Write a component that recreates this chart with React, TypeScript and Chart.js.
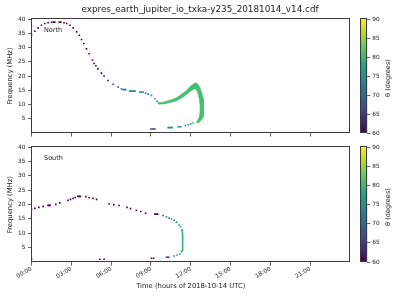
import React, { useEffect, useRef } from "react";
import { Chart, registerables } from "chart.js";

Chart.register(...registerables);

const FONT = "'DejaVu Sans', sans-serif";
const TEXT = "#1a1a1a";
const SPINE = "#3a3a3a";

const FIG_TITLE = "expres_earth_jupiter_io_txka-y235_20181014_v14.cdf";
const X_LABEL = "Time (hours of 2018-10-14 UTC)";
const Y_LABEL = "Frequency (MHz)";
const CB_LABEL = "θ (degrees)";
const PANEL_NAMES = ["North", "South"];

const X_TICKS = [0, 3, 6, 9, 12, 15, 18, 21];
const Y_TICKS = [5, 10, 15, 20, 25, 30, 35, 40];
const CB_TICKS = [60, 65, 70, 75, 80, 85, 90];
const THETA_MIN = 60;
const THETA_MAX = 90;

// ---- North hemisphere: sampled emission points (hour, MHz, theta deg)
const northHours = [
  0.0, 0.25, 0.5, 0.75, 1.0, 1.25, 1.5, 1.65, 1.75, 2.1, 2.2, 2.45, 2.64, 2.9, 3.14, 3.4, 3.6, 3.77, 3.94, 4.14,
  4.34, 4.6, 4.72, 4.85, 5.0, 5.27, 5.47, 5.77, 6.15, 6.53, 6.78, 6.9, 7.0, 7.1, 7.4, 7.5, 7.6, 7.7, 7.8, 8.17,
  8.28, 8.4, 8.6, 8.8, 9.04, 9.3, 9.47, 9.6,
  9.0, 9.1, 9.2, 9.3, 10.3, 10.4, 10.5, 10.6, 11.05, 11.15, 11.25, 11.6, 11.8, 12.0, 12.18,
];
const northFreqs = [
  34.5, 35.7, 36.9, 37.8, 38.4, 38.7, 38.85, 38.9, 38.9, 38.9, 38.9, 38.7, 38.4, 37.8, 36.9, 35.5, 34.3, 32.8, 31.4, 29.5,
  27.8, 25.6, 24.4, 23.6, 22.5, 21.0, 20.0, 18.4, 17.1, 16.1, 15.5, 15.2, 15.2, 15.2, 14.7, 14.7, 14.7, 14.7, 14.7, 14.35,
  14.35, 14.35, 14.0, 13.65, 13.2, 12.0, 11.1, 10.5,
  1.4, 1.4, 1.4, 1.4, 1.9, 1.9, 1.9, 1.9, 2.2, 2.2, 2.2, 2.6, 2.9, 3.2, 3.5,
];
const northTheta = [
  60, 60, 60, 60, 60, 60, 60, 60, 60, 60, 60, 60, 60, 60, 60, 60, 60, 60, 60, 60,
  60, 60, 60, 60, 60, 60, 60, 61, 65, 71, 73, 73, 73, 73, 73.5, 73.5, 73.5, 73.5, 73.5, 73.5,
  73.5, 73.5, 74, 74, 74.5, 75, 75, 76,
  66, 66, 66, 66, 74, 74, 74, 74, 75, 75, 75, 76, 77, 77, 78,
];

// North dense band (outer and inner edges, hour / MHz)
const bandOuterHours = [9.6, 10.05, 10.55, 10.93, 11.3, 11.68, 11.93, 12.18, 12.35, 12.5, 12.65, 12.8, 12.93, 12.98, 12.98, 12.93, 12.8, 12.63, 12.45];
const bandOuterFreqs = [10.55, 11.0, 11.7, 12.4, 13.6, 14.9, 16.2, 17.1, 17.6, 17.3, 16.3, 14.6, 12.3, 9.9, 7.6, 5.8, 4.6, 3.7, 3.5];
const bandInnerHours = [9.6, 10.05, 10.55, 10.93, 11.3, 11.68, 11.93, 12.18, 12.35, 12.5, 12.62, 12.7, 12.7, 12.66, 12.55, 12.45];
const bandInnerFreqs = [10.1, 10.3, 10.8, 11.3, 12.3, 13.5, 14.5, 15.3, 15.5, 14.6, 12.5, 9.9, 7.6, 5.8, 4.7, 3.9];
const bandTheta = 81;

// ---- South hemisphere
const southHours = [
  0.0, 0.25, 0.55, 0.88, 1.25, 1.33, 1.4, 1.83, 2.13, 2.76, 2.94, 3.14, 3.3, 3.5, 3.6, 3.68, 4.1, 4.34, 4.64, 4.9,
  5.85, 6.2, 6.6, 7.2, 7.46, 7.9, 8.24, 8.6, 9.3, 9.4, 9.5,
  9.92, 10.17, 10.37, 10.55, 10.75, 10.93, 11.12, 11.23, 11.33,
  11.3, 11.17, 10.97, 10.75, 10.17, 10.26, 10.35, 9.04, 9.2, 5.15, 5.47, 0.0,
];
const southFreqs = [
  18.5, 18.7, 19.05, 19.4, 19.75, 19.75, 19.75, 20.1, 20.6, 21.5, 21.85, 22.2, 22.5, 22.9, 22.9, 22.9, 22.8, 22.4, 22.2, 21.85,
  20.3, 20.0, 19.7, 19.05, 18.6, 18.0, 17.6, 17.0, 16.7, 16.7, 16.7,
  16.2, 15.7, 15.3, 15.0, 14.5, 13.9, 12.9, 12.3, 11.2,
  3.6, 2.8, 2.45, 2.1, 1.64, 1.64, 1.64, 1.3, 1.3, 0.95, 0.95, 1.0,
];
const southTheta = [
  60, 60, 60, 60, 60, 60, 60, 60, 60, 60, 60, 60, 60, 60, 60, 60, 60, 60, 60, 60,
  60, 60, 60, 60, 60, 60, 60, 60, 60, 60, 60,
  68, 70, 72, 74, 75, 76, 77, 78, 79,
  78, 76, 75, 75, 66, 66, 66, 60, 60, 60, 60, 60,
];
// South continuous vertical segment
const southLineHours = [11.33, 11.38, 11.4, 11.38, 11.3];
const southLineFreqs = [11.2, 10.0, 7.0, 4.2, 3.6];
const southLineTheta = 80;

// ---- viridis colormap
const VIRIDIS = [
  "#440154", "#482475", "#414487", "#355f8d", "#2a788e", "#21918c",
  "#22a884", "#44bf70", "#7ad151", "#bddf26", "#fde725",
];
function hexRgb(h: string) {
  return [parseInt(h.slice(1, 3), 16), parseInt(h.slice(3, 5), 16), parseInt(h.slice(5, 7), 16)];
}
function viridisT(t: number) {
  const c = Math.max(0, Math.min(1, t)) * (VIRIDIS.length - 1);
  const i = Math.min(VIRIDIS.length - 2, Math.floor(c));
  const f = c - i;
  const a = hexRgb(VIRIDIS[i]);
  const b = hexRgb(VIRIDIS[i + 1]);
  const m = a.map((v, k) => Math.round(v + (b[k] - v) * f));
  return `rgb(${m[0]},${m[1]},${m[2]})`;
}
function viridis(theta: number) {
  return viridisT((theta - THETA_MIN) / (THETA_MAX - THETA_MIN));
}

const boxPlugin = {
  id: "box",
  afterDraw(chart: any) {
    const { ctx, chartArea: a } = chart;
    ctx.save();
    ctx.strokeStyle = SPINE;
    ctx.lineWidth = 1;
    const l = Math.round(a.left) - 0.5;
    const r = Math.round(a.right) - 0.5;
    const t = Math.round(a.top) - 0.5;
    const b = Math.round(a.bottom) - 0.5;
    ctx.strokeRect(l, t, r - l, b - t);
    ctx.restore();
  },
};

const pts = (xs: number[], ys: number[]) => xs.map((x, i) => ({ x, y: ys[i] }));

function dotDataset(xs: number[], ys: number[], th: number[]) {
  return {
    data: pts(xs, ys),
    showLine: false,
    pointStyle: "rect",
    pointRadius: 1.15,
    pointHoverRadius: 1.15,
    pointBorderWidth: 0,
    pointBackgroundColor: th.map(viridis),
  };
}

function panelConfig(opts: {
  datasets: any[];
  showX: boolean;
  padTop: number;
  xH: number;
}) {
  const tickFont = { family: FONT, size: 5.8 };
  const labFont = { family: FONT, size: 6.8 };
  return {
    type: "line",
    data: { datasets: opts.datasets },
    options: {
      animation: false,
      responsive: true,
      maintainAspectRatio: false,
      events: [],
      layout: { padding: { top: opts.padTop, right: 50, left: 0, bottom: 0 } },
      plugins: { legend: { display: false }, tooltip: { enabled: false }, title: { display: false } },
      elements: { line: { tension: 0 } },
      scales: {
        x: {
          type: "linear",
          min: 0,
          max: 24,
          afterBuildTicks: (s: any) => {
            s.ticks = X_TICKS.map((v) => ({ value: v }));
          },
          afterFit: (s: any) => {
            s.height = opts.xH;
          },
          border: { display: false },
          grid: { display: true, drawOnChartArea: false, drawTicks: true, tickLength: 3.5, color: SPINE, lineWidth: 0.8 },
          ticks: {
            display: opts.showX,
            autoSkip: false,
            minRotation: 30,
            maxRotation: 30,
            padding: 0,
            color: TEXT,
            font: tickFont,
            callback: (v: number) => String(v).padStart(2, "0") + ":00",
          },
          title: {
            display: opts.showX,
            text: X_LABEL,
            color: TEXT,
            font: labFont,
            padding: { top: 0, bottom: 9.2 },
          },
        },
        y: {
          type: "linear",
          min: 0,
          max: 40,
          afterBuildTicks: (s: any) => {
            s.ticks = Y_TICKS.map((v) => ({ value: v }));
          },
          afterFit: (s: any) => {
            s.width = 31.5;
          },
          border: { display: false },
          grid: { display: true, drawOnChartArea: false, drawTicks: true, tickLength: 3.5, color: SPINE, lineWidth: 0.8 },
          ticks: { padding: 2.5, color: TEXT, font: tickFont },
          title: {
            display: true,
            text: Y_LABEL,
            color: TEXT,
            font: labFont,
            padding: { top: 5.9, bottom: 0 },
          },
        },
      },
    },
    plugins: [boxPlugin],
  };
}

function colorbarConfig(padTop: number, padBottom: number) {
  return {
    type: "bar",
    data: {
      labels: [""],
      datasets: [
        {
          data: [[THETA_MIN, THETA_MAX]],
          barPercentage: 1,
          categoryPercentage: 1,
          borderWidth: 0,
          borderSkipped: false,
          backgroundColor: (ctx: any) => {
            const area = ctx.chart.chartArea;
            if (!area) return VIRIDIS[5];
            const g = ctx.chart.ctx.createLinearGradient(0, area.bottom, 0, area.top);
            for (let i = 0; i <= 20; i++) g.addColorStop(i / 20, viridisT(i / 20));
            return g;
          },
        },
      ],
    },
    options: {
      animation: false,
      responsive: true,
      maintainAspectRatio: false,
      events: [],
      layout: { padding: { top: padTop, bottom: padBottom, left: 8.7, right: 0 } },
      plugins: { legend: { display: false }, tooltip: { enabled: false } },
      scales: {
        x: { display: false },
        y: {
          position: "right",
          min: THETA_MIN,
          max: THETA_MAX,
          afterBuildTicks: (s: any) => {
            s.ticks = CB_TICKS.map((v) => ({ value: v }));
          },
          afterFit: (s: any) => {
            s.width = 32.7;
          },
          border: { display: false },
          grid: { display: true, drawOnChartArea: false, drawTicks: true, tickLength: 3, color: SPINE, lineWidth: 0.8 },
          ticks: { padding: 2, color: TEXT, font: { family: FONT, size: 5.8 } },
        },
      },
    },
    plugins: [boxPlugin],
  };
}

function ChartBox(props: { left: number; top: number; width: number; height: number; make: () => any }) {
  const ref = useRef<HTMLCanvasElement>(null);
  useEffect(() => {
    const chart = new Chart(ref.current as HTMLCanvasElement, props.make());
    return () => chart.destroy();
  }, []);
  return (
    <div style={{ position: "absolute", left: props.left, top: props.top, width: props.width, height: props.height }}>
      <canvas ref={ref} />
    </div>
  );
}

const textBase: React.CSSProperties = {
  position: "absolute",
  fontFamily: FONT,
  color: TEXT,
  whiteSpace: "nowrap",
  lineHeight: 1,
};

export default function App() {
  const bandPoly = pts(bandOuterHours, bandOuterFreqs).concat(pts(bandInnerHours, bandInnerFreqs).reverse());
  const bandColor = viridis(bandTheta);
  const lineColor = viridis(southLineTheta);

  const northDatasets = [
    {
      data: bandPoly,
      showLine: true,
      fill: "shape",
      borderColor: bandColor,
      backgroundColor: bandColor,
      borderWidth: 0.6,
      pointRadius: 0,
      pointHoverRadius: 0,
    },
    dotDataset(northHours, northFreqs, northTheta),
  ];
  const southDatasets = [
    {
      data: pts(southLineHours, southLineFreqs),
      showLine: true,
      fill: false,
      borderColor: lineColor,
      borderWidth: 1.6,
      pointRadius: 0,
      pointHoverRadius: 0,
    },
    dotDataset(southHours, southFreqs, southTheta),
  ];

  return (
    <div style={{ position: "absolute", left: 0, top: 0, width: 400, height: 300, background: "#ffffff", overflow: "hidden" }}>
      <ChartBox left={0} top={0} width={400} height={140} make={() => panelConfig({ datasets: northDatasets, showX: false, padTop: 19, xH: 7 })} />
      <ChartBox left={0} top={140} width={400} height={160} make={() => panelConfig({ datasets: southDatasets, showX: true, padTop: 7.3, xH: 38 })} />
      <ChartBox left={352} top={0} width={48} height={140} make={() => colorbarConfig(19, 7)} />
      <ChartBox left={352} top={140} width={48} height={160} make={() => colorbarConfig(7.3, 38)} />
      <div style={{ ...textBase, left: 200, top: 9, fontSize: 8.8, transform: "translate(-50%, -50%)" }}>{FIG_TITLE}</div>
      <div style={{ ...textBase, left: 44, top: 29.5, fontSize: 6.5, transform: "translateY(-50%)" }}>{PANEL_NAMES[0]}</div>
      <div style={{ ...textBase, left: 44, top: 158, fontSize: 6.5, transform: "translateY(-50%)" }}>{PANEL_NAMES[1]}</div>
      <div style={{ ...textBase, left: 387.5, top: 77.5, fontSize: 6.6, transform: "translate(-50%, -50%) rotate(-90deg)" }}>{CB_LABEL}</div>
      <div style={{ ...textBase, left: 387.5, top: 207, fontSize: 6.6, transform: "translate(-50%, -50%) rotate(-90deg)" }}>{CB_LABEL}</div>
    </div>
  );
}
